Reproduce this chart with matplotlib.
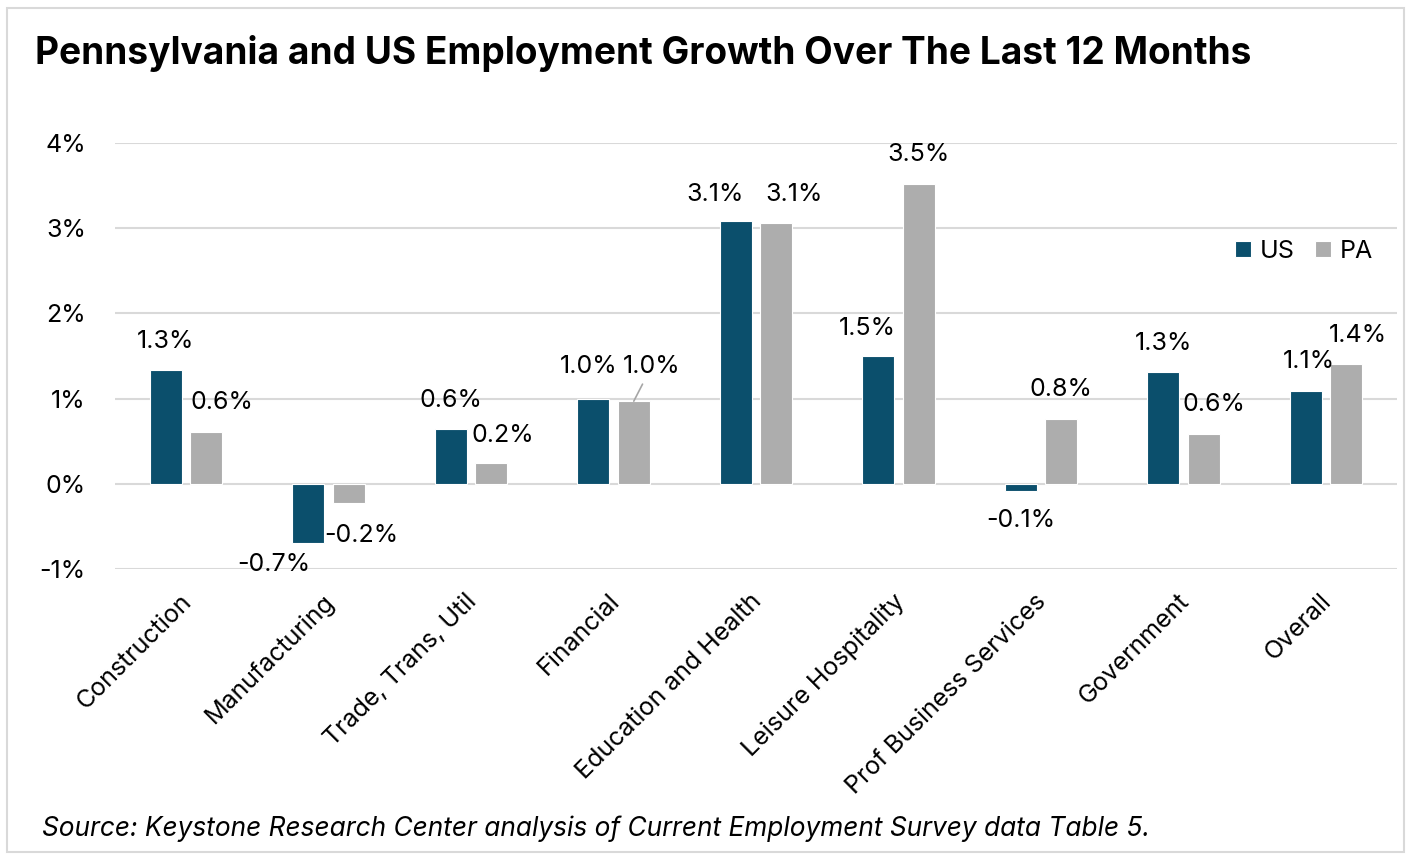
import matplotlib.pyplot as plt
from matplotlib.patches import Rectangle
from matplotlib.transforms import ScaledTranslation
import numpy as np

# sectors and 12-month growth, in percent
sectors = ["Construction", "Manufacturing", "Trade, Trans, Util", "Financial",
           "Education and Health", "Leisure Hospitality", "Prof Business Services",
           "Government", "Overall"]
us = [1.33, -0.69, 0.64, 1.0, 3.08, 1.50, -0.08, 1.31, 1.09]
pa = [0.61, -0.22, 0.24, 0.97, 3.06, 3.52, 0.76, 0.59, 1.41]

# label nudges in pixels (dx, dy) from the end of each bar
us_off = [(0, 29), (-35, -22), (0, 29), (-5, 32), (-21, 27), (-11, 28), (0, -30), (0, 29), (3, 29)]
pa_off = [(15, 29), (12, -33), (11, 28), (18, 35), (18, 29), (0, 29), (0, 30), (10, 29), (12, 28)]

us_col = "#0B4F6C"
pa_col = "#ADADAD"
txt = "#000000"

plt.rcParams["font.family"] = ["Inter", "DejaVu Sans"]
fs = 18

fig = plt.figure(figsize=(14.13, 8.55), dpi=100)
ax = fig.add_axes([115 / 1413, 1 - 569 / 855, 1282 / 1413, 426 / 855])

x = np.arange(len(sectors))
w = 0.225
off = 0.142
b1 = ax.bar(x - off, us, w, color=us_col, edgecolor="white", linewidth=0.8, label="US", zorder=3)
b2 = ax.bar(x + off, pa, w, color=pa_col, edgecolor="white", linewidth=0.8, label="PA", zorder=3)

def label_bars(bars, vals, offs, leader=None):
    for i, (rect, v, (dx, dy)) in enumerate(zip(bars, vals, offs)):
        cx = rect.get_x() + rect.get_width() / 2
        kw = {}
        if leader is not None and i == leader:
            kw["arrowprops"] = dict(arrowstyle="-", color="#A6A6A6", lw=1.2,
                                    shrinkA=3, shrinkB=0)
        ax.annotate(f"{v:.1f}%", xy=(cx, v), xytext=(dx, dy), textcoords="offset pixels",
                    ha="center", va="center", fontsize=fs, color=txt, zorder=4, **kw)

label_bars(b1, us, us_off)
label_bars(b2, pa, pa_off, leader=3)

ax.set_xlim(-0.5, len(sectors) - 0.5)
ax.set_ylim(-1, 4)
ax.set_yticks(range(-1, 5))
ax.set_yticklabels([f"{t}%" for t in range(-1, 5)], fontsize=fs, color=txt)
ax.set_xticks(x)
ax.set_xticklabels(sectors, rotation=45, ha="right", va="top", rotation_mode="anchor",
                   fontsize=fs, color=txt)
ax.tick_params(axis="both", length=0)
ax.tick_params(axis="x", pad=20)
ax.tick_params(axis="y", pad=21)
shift = ScaledTranslation(-6 / 100, 7 / 100, fig.dpi_scale_trans)
for lab in ax.get_xticklabels():
    lab.set_transform(lab.get_transform() + shift)
for s in ax.spines.values():
    s.set_visible(False)
ax.grid(axis="y", color="#D9D9D9", linewidth=1.5, zorder=0)
ax.set_axisbelow(True)

ax.legend(loc="center right", bbox_to_anchor=(0.991, 0.746), ncol=2, frameon=False,
          fontsize=fs, handlelength=0.65, handleheight=0.65, handletextpad=0.35,
          columnspacing=0.8, borderpad=0)

fig.text(35 / 1413, 1 - 53 / 855, "Pennsylvania and US Employment Growth Over The Last 12 Months",
         fontsize=26.7, fontweight="bold", color=txt, va="center", ha="left")
fig.text(42 / 1413, 1 - 829 / 855,
         "Source: Keystone Research Center analysis of Current Employment Survey data Table 5.",
         fontsize=18.9, style="italic", color=txt, va="center", ha="left")

fig.patches.append(Rectangle((7 / 1413, 3 / 855), 1397 / 1413, 844 / 855, transform=fig.transFigure,
                             fill=False, edgecolor="#D9D9D9", linewidth=1.5))

fig.savefig("out.png", dpi=100)
